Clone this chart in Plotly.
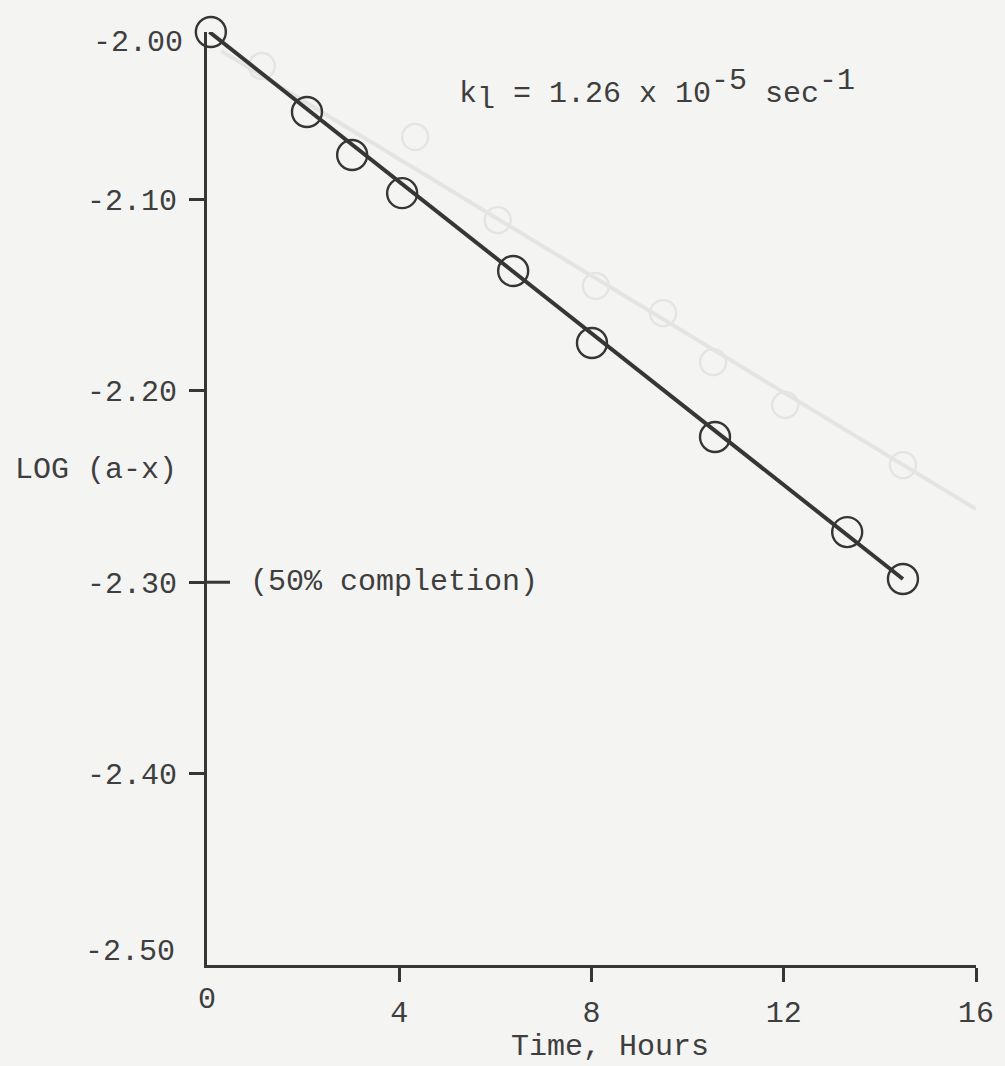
import plotly.graph_objects as go

# ---- data ----
hours = [0.08, 2.08, 3.02, 4.06, 6.37, 8.01, 10.57, 13.32, 14.48]
log_ax = [-2.0125, -2.0543, -2.0768, -2.0967, -2.1374, -2.1750, -2.2241, -2.2738, -2.2983]

fit_hours = [0.05, 14.48]
fit_log = [-2.0125, -2.2983]

# faint show-through of another run (visible through the paper)
ghost_hours = [1.14, 4.33, 6.05, 8.09, 9.49, 10.53, 12.03, 14.48]
ghost_log = [-2.0303, -2.0674, -2.1108, -2.1452, -2.1594, -2.1850, -2.2074, -2.2388]
ghost_fit_hours = [0.3, 16.0]
ghost_fit_log = [-2.0225, -2.2618]

x_tick_vals = [4, 8, 12, 16]
x_tick_text = ["4", "8", "12", "16"]
y_tick_vals = [-2.10, -2.20, -2.30, -2.40]
y_tick_text = ["-2.10", "-2.20", "-2.30", "-2.40"]

INK = "#363636"
TXT = "#3e3e3e"
GHOST = "#e4e4e2"
PAPER = "#f4f4f2"
FONT = "Liberation Mono, Courier New, monospace"
FS = 30

fig = go.Figure()
fig.add_trace(go.Scatter(x=ghost_fit_hours, y=ghost_fit_log, mode="lines",
                         line=dict(color=GHOST, width=4), hoverinfo="skip",
                         showlegend=False, cliponaxis=False))
fig.add_trace(go.Scatter(x=ghost_hours, y=ghost_log, mode="markers",
                         marker=dict(symbol="circle-open", size=26,
                                     line=dict(color=GHOST, width=2.4), color=GHOST),
                         hoverinfo="skip", showlegend=False, cliponaxis=False))
fig.add_trace(go.Scatter(x=fit_hours, y=fit_log, mode="lines",
                         line=dict(color=INK, width=4), hoverinfo="skip",
                         showlegend=False, cliponaxis=False))
fig.add_trace(go.Scatter(x=hours, y=log_ax, mode="markers",
                         marker=dict(symbol="circle-open", size=30,
                                     line=dict(color=INK, width=2.4), color=INK),
                         showlegend=False, cliponaxis=False))

fig.update_layout(
    width=1005, height=1066,
    margin=dict(l=207, r=29, t=32, b=101, pad=0),
    paper_bgcolor=PAPER, plot_bgcolor=PAPER,
    font=dict(family=FONT, size=FS, color=TXT),
    xaxis=dict(range=[0, 16], tickvals=x_tick_vals, ticktext=x_tick_text,
               ticks="outside", ticklen=14, tickwidth=3, tickcolor=INK,
               showline=True, linewidth=3, linecolor=INK,
               showgrid=False, zeroline=False, ticklabelstandoff=4),
    yaxis=dict(range=[-2.50, -2.0125], tickvals=y_tick_vals, ticktext=y_tick_text,
               ticks="outside", ticklen=15, tickwidth=3, tickcolor=INK,
               showline=True, linewidth=3, linecolor=INK,
               showgrid=False, zeroline=False, ticklabelstandoff=6),
)

# inner part of the -2.30 tick (crosses the axis)
fig.add_shape(type="line", xref="x", yref="y", xsizemode="pixel", xanchor=0,
              x0=0, x1=23, y0=-2.30, y1=-2.30, line=dict(color=INK, width=3))

ann = dict(showarrow=False, font=dict(family=FONT, size=FS, color=TXT))
# end labels drawn without tick marks
fig.add_annotation(text="0", xref="x", x=0, yref="paper", y=-0.0375,
                   xanchor="center", yanchor="middle", **ann)
fig.add_annotation(text="-2.00", xref="paper", x=0, xshift=-22, yref="paper", y=0.9882,
                   xanchor="right", yanchor="middle", **ann)
fig.add_annotation(text="-2.50", xref="paper", x=0, xshift=-30, yref="paper", y=0.0139,
                   xanchor="right", yanchor="middle", **ann)
# axis titles
fig.add_annotation(text="Time, Hours", xref="paper", x=0.524, yref="paper", y=-0.0879,
                   xanchor="center", yanchor="middle", **ann)
fig.add_annotation(text="LOG (a-x)", xref="paper", x=-0.2523, yref="paper", y=0.5305,
                   xanchor="left", yanchor="middle", **ann)
# rate constant note (typewriter-style full-size raised / lowered characters)
FULL = '<span style="font-size:%dpx">%s</span>'
k_text = ("k<sub>" + FULL % (FS, "l") + "</sub> = 1.26 x 10<sup>"
          + FULL % (FS, "-5") + "</sup> sec<sup>" + FULL % (FS, "-1") + "</sup>")
fig.add_annotation(text=k_text, xref="paper", x=0.325, yref="paper", y=0.9368,
                   xanchor="left", yanchor="middle", **ann)
fig.add_annotation(text="(50% completion)", xref="paper", x=0.0533, yref="y", y=-2.30,
                   xanchor="left", yanchor="middle", **ann)

fig.write_html("out.html")
